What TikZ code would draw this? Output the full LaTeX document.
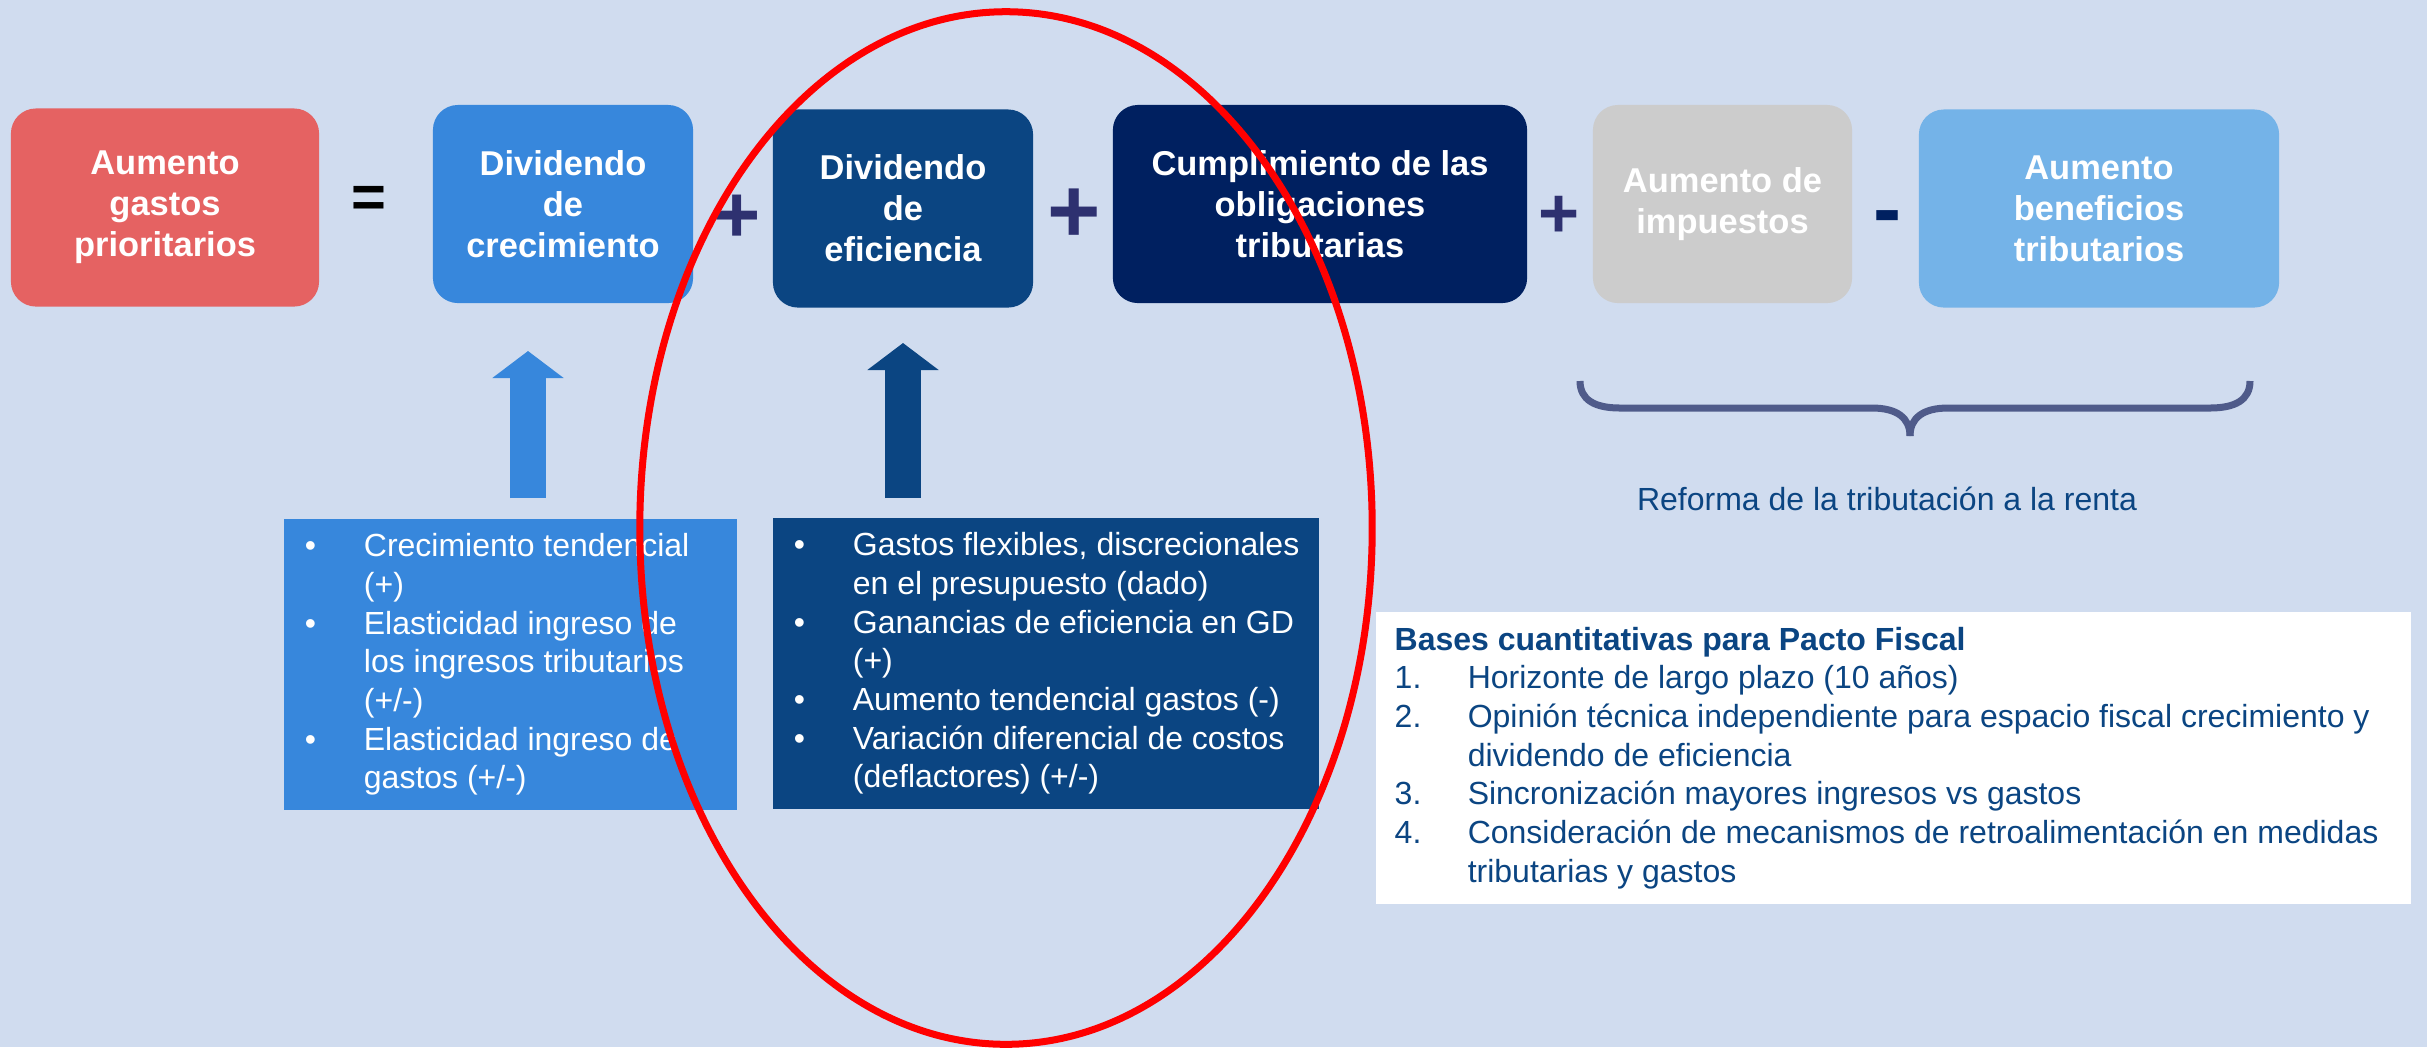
\documentclass[tikz,border=0pt]{standalone}
\usepackage{fontspec}
\setmainfont{Liberation Sans}
\usetikzlibrary{arrows.meta}

\definecolor{bgBlue}{HTML}{D0DCEF}
\definecolor{redBox}{HTML}{E56262}
\definecolor{midBlue}{HTML}{3787DC}
\definecolor{darkBlue}{HTML}{0B4582}
\definecolor{navyBlue}{HTML}{002060}
\definecolor{greyBox}{HTML}{CCCCCC}
\definecolor{lightBlue}{HTML}{74B3E8}
\definecolor{signBlue}{HTML}{2E3170}
\definecolor{braceBlue}{HTML}{4F5B8A}
\definecolor{textBlue}{HTML}{0B4582}

\newcommand{\bul}{\makebox[0.59cm][l]{\textbullet}}
\newcommand{\ind}{\hspace*{0.59cm}}
\newcommand{\itm}[1]{\makebox[0.73cm][l]{#1.}}

\begin{document}
\begin{tikzpicture}[x=0.01cm, y=-0.01cm]
    \tikzstyle{boxStyle} = [rounded corners=0.25cm, text=white, align=center,
        font=\fontsize{9.8}{11.7}\selectfont\bfseries, minimum height=1.98cm, inner sep=0pt]
    \tikzstyle{listBox} = [inner sep=0pt, minimum height=2.91cm]
    \tikzstyle{listText} = [anchor=west, align=left, inner sep=0pt,
        font=\fontsize{9.1}{11}\selectfont]
    \tikzstyle{signStyle} = [inner sep=0pt]
    \tikzstyle{fatArrow} = [line width=0.36cm, -{Triangle[width=0.7cm,length=0.27cm]}]
    \tikzstyle{braceLine} = [draw=braceBlue, line width=0.07cm]
    \tikzstyle{redRing} = [draw=red, line width=0.07cm]

    \fill[bgBlue] (0,0) rectangle (2427,1047);
    \useasboundingbox (0,0) rectangle (2427,1047);

    % top row
    \node[boxStyle, fill=redBox, minimum width=3.08cm] (gastos) at (165,207.5) {Aumento\\gastos\\prioritarios};
    \node[boxStyle, fill=midBlue, minimum width=2.6cm] (crec) at (563,204) {Dividendo\\de\\crecimiento};
    \node[boxStyle, fill=darkBlue, minimum width=2.6cm] (efic) at (903,208.5) {Dividendo\\de\\eficiencia};
    \node[boxStyle, fill=navyBlue, minimum width=4.14cm] (cumpl) at (1320,204) {Cumplimiento de las\\obligaciones\\tributarias};
    \node[boxStyle, fill=greyBox, minimum width=2.59cm] (impu) at (1722.5,204) {Aumento de\\impuestos};
    \node[boxStyle, fill=lightBlue, minimum width=3.6cm] (benef) at (2099,208.5) {Aumento\\beneficios\\tributarios};

    \node[signStyle, font=\fontsize{17}{17}\selectfont\bfseries] (igual) at (369,202) {=};
    \foreach \nm/\px/\py/\sz in {masA/737/219/23, masB/1074/216/26, masC/1559/217/20}
        \node[signStyle, text=signBlue, font=\fontsize{\sz}{\sz}\selectfont\bfseries] (\nm) at (\px,\py) {+};
    \node[signStyle, text=navyBlue, font=\fontsize{24}{24}\selectfont\bfseries] (menos) at (1888,224) {-};

    % arrows
    \coordinate (crecFoot) at (528,498);
    \coordinate (crecTip) at (528,351);
    \coordinate (eficFoot) at (903,498);
    \coordinate (eficTip) at (903,343);
    \draw[fatArrow, midBlue] (crecFoot) -- (crecTip);
    \draw[fatArrow, darkBlue] (eficFoot) -- (eficTip);

    % bullet boxes
    \node[listBox, fill=midBlue, minimum width=4.53cm] (crecList) at (510.5,664.5) {};
    \node[listText, text=white] (crecItems) at ([xshift=0.21cm]crecList.west)
        {\bul Crecimiento tendencial\\ \ind (+)\\ \bul Elasticidad ingreso de\\
         \ind los ingresos tributarios\\ \ind (+/-)\\ \bul Elasticidad ingreso de\\
         \ind gastos (+/-)};
    \node[listBox, fill=darkBlue, minimum width=5.46cm] (eficList) at (1046,663.5) {};
    \node[listText, text=white] (eficItems) at ([xshift=0.21cm]eficList.west)
        {\bul Gastos flexibles, discrecionales\\ \ind en el presupuesto (dado)\\
         \bul Ganancias de eficiencia en GD\\ \ind (+)\\ \bul Aumento tendencial gastos (-)\\
         \bul Variación diferencial de costos\\ \ind (deflactores) (+/-)};

    % brace and label
    \draw[braceLine] (1580,381) .. controls (1580,400) and (1595,408) .. (1620,408)
        -- (1872,408) .. controls (1897,408) and (1910,418) .. (1910,436);
    \draw[braceLine] (1910,436) .. controls (1910,418) and (1923,408) .. (1948,408)
        -- (2210,408) .. controls (2235,408) and (2250,400) .. (2250,381);
    \node[text=textBlue, font=\fontsize{9.1}{11}\selectfont, inner sep=0pt] (reforma) at (1887,499)
        {Reforma de la tributación a la renta};

    % white box
    \node[listBox, fill=white, minimum width=10.35cm] (pacto) at (1893.5,758) {};
    \node[listText, text=textBlue] (pactoItems) at ([xshift=0.19cm]pacto.west)
        {{\bfseries Bases cuantitativas para Pacto Fiscal}\\
         \itm{1}Horizonte de largo plazo (10 años)\\
         \itm{2}Opinión técnica independiente para espacio fiscal crecimiento y\\
         \hspace*{0.73cm}dividendo de eficiencia\\
         \itm{3}Sincronización mayores ingresos vs gastos\\
         \itm{4}Consideración de mecanismos de retroalimentación en medidas\\
         \hspace*{0.73cm}tributarias y gastos};

    % highlight
    \draw[redRing] (1006,528) ellipse [x radius=3.66cm, y radius=5.16cm];
\end{tikzpicture}
\end{document}
